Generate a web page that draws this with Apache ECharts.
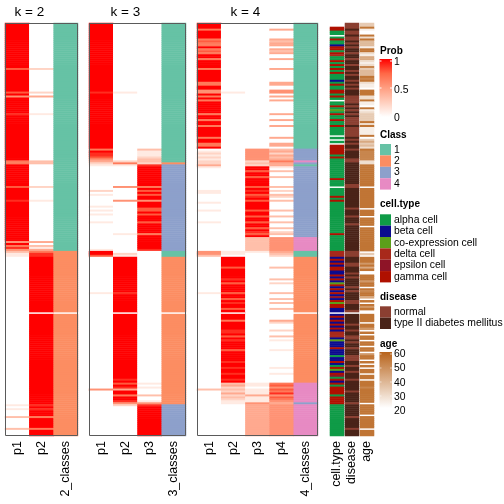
<!DOCTYPE html>
<html><head><meta charset="utf-8">
<script src="https://cdn.jsdelivr.net/npm/echarts@6/dist/echarts.min.js"></script>
<style>html,body{margin:0;padding:0;background:#fff}#c{width:504px;height:504px}</style>
</head><body><div id="c"></div>
<script>
// Each string = 10 consecutive rows (top to bottom). Prob digits: d/9 ; '.' = NA
const k2_p1 = ["9999999999","9999999999","9997999999","9999979599","9999998999","9999999999","9999999999","6699999999","9997999999","8999999999","9999999999","9596853110","0000000000","0000000000","0000000.00","0000000000","0000000000","0000000000","0000000000","0000101000","3000003000"];
const k2_p2 = ["0000000000","0000000000","0002000000","0000020400","0000001000","0000000000","0000000000","3300000000","0002000000","1000000000","0000000000","0403146889","9999999999","9999999999","9999999.99","9999999999","9999999999","9999999999","9999999999","9999898999","6999996999"];
const k2_cls = ["1111111111","1111111111","1111111111","1111111111","1111111111","1111111111","1111111111","1111111111","1111111111","1111111111","1111111111","1111112222","2222222222","2222222222","2222222.22","2222222222","2222222222","2222222222","2222222222","2222222222","2222222222"];

const k3_p1 = ["9999999999","9999999999","9999999999","9999989999","9999999999","9999999999","9999698875","4210000000","0000020100","0001010100","0100000000","0000019970","0000000000","0000000100","0000000.00","0000000000","0000000000","0000000000","0000005000","0000000000","0000000000"];
const k3_p2 = ["0000000000","0000000000","0000000000","0000010000","0000000000","0000000000","0000000000","2610000000","0005000000","5000000000","0000000100","0000000219","9999999999","9999999899","9999999.99","9999999999","9999999999","9999999999","9897984996","9985200000","0000000000"];
const k3_p3 = ["0000000000","0000000000","0000000000","0000000000","0000000000","0000000000","0000311123","3289999999","9996979799","5999779799","9799999699","9999980000","0000000000","0000000000","0000000.00","0000000000","0000000000","0000000000","0001010003","0015899999","9999999999"];
const k3_cls = ["1111111111","1111111111","1111111111","1111111111","1111111111","1111111111","1111111111","1233333333","3333333333","3333333333","3333333333","3333331112","2222222222","2222222222","2222222.22","2222222222","2222222222","2222222222","2222222222","2222333333","3333333333"];

const k4_p1 = ["9996999967","6696769969","9996999999","6699559696","9999996996","9969999969","9669012121","2241000000","0000011000","0100010000","0100000000","0000005530","0000000000","0000000100","0000000.00","0000000000","0000000000","0000000000","0000003000","0000000000","0000000000"];
const k4_p2 = ["0000000000","0000000000","0000000000","0000010000","0000000000","0000000000","0000000000","0000000000","0000000000","0000000000","0000000000","0000001109","9999799999","8979999799","7989979.99","9699998897","9899997999","9989989989","9893423242","3211000000","0000000000"];
const k4_p3 = ["0000000000","0000000000","0000000000","0000000000","0000000000","0000000000","0000555555","2329979979","9997989789","7999979979","9799798793","3333331000","0000000000","0000000000","0000000.00","0000000000","0000000000","0000000000","0001101114","1115444444","4444444444"];
const k4_p4 = ["0004000043","4404340040","0004000000","4400550404","0000004004","0040000040","0440342434","6441030030","0003020320","3000030030","0300302305","5555554320","0000300000","3020000300","3030030.00","0420002003","0100001000","0000010010","0006757685","7654555555","5555555555"];
const k4_cls = ["1111111111","1111111111","1111111111","1111111111","1111111111","1111111111","1111333333","4313333333","3333333333","3333333333","3333333334","4444441112","2222222222","2222222222","2222222.22","2222222222","2222222222","2222222222","2224444444","4443444444","4444444444"];

// a alpha, b beta, c co-expression, d delta, e epsilon, g gamma, '.' NA
const cellType = ["..ggaa.aga","abggagdaag","agagagaaab","agaaggaga.","aagacagaag","aagaaaa.a.","a.gggggaga","aaaaaaaaag","aaa.aaaaga","gaaaaaaaaa","aaaaaaagaa","aaaaaadddb","gbgbggbbgb","gbcgbgbgbe","bgcggbb.bg","bgbgbgbddd","bcbbbgbbba","bbgbagcbge","agbgagggga","ggggaaaaaa","aaaaaaaaaa"];
// n normal, t type II diabetes mellitus
const disease = ["nnntnntnnt","ntnttnttnt","tnttntnttn","tntntttnnn","ntntntntnn","nntnnnnntn","tnttnttttn","nttttttttt","ttnntttttt","ttttntttnt","ttnttttttt","ttttttnnnt","ttnntttntn","ttttntnttt","tnntttn.tt","tttnttnttn","ntnttntttn","nnttnttntt","tntttttntt","tttntttttt","ntttttnttt"];
// age digit d -> 20 + d*40/9
const age = ["3381008284","4418821552","1273444878","2110888228","1108123333","8281111803","5342877777","2288888888","888.888888","8888.888.8","888.888888","888888.3.8","886858..88","8688.87885",".8.868..88","88.886.8.8","8.88.88.68","8.8.8.88.8","8.88878888","888.88888.","888888.888"];

const classNames = ["1","2","3","4"];
const classColors = ["#66C2A5","#FC8D62","#8DA0CB","#E78AC3"];
const cellTypeNames = ["alpha cell","beta cell","co-expression cell","delta cell","epsilon cell","gamma cell"];
const cellTypeCodes = ["a","b","c","d","e","g"];
const cellTypeColors = ["#0F9B47","#0B0B8E","#5B9F1A","#A8291B","#8E1427","#AF1000"];
const diseaseNames = ["normal","type II diabetes mellitus"];
const diseaseCodes = ["n","t"];
const diseaseColors = ["#8B3F31","#4A2318"];
const probTicks = ["1","0.5","0"];
const ageTicks = ["60","50","40","30","20"];

const probRamp = ["#FFFFFF","#FFCFBE","#FF9E81","#FF6847","#FF0000"];
const ageRamp = ["#FFFFFF","#B8641C"];

const J = a => a.join('');
const NROW = J(k2_p1).length;
const rowCats = Array.from({length:NROW},(_,i)=>String(i));

function cells(cols, offset, dec){
  const out=[];
  cols.forEach((arr,ci)=>{const s=J(arr);for(let r=0;r<s.length;r++){const ch=s[r];if(ch==='.')continue;out.push([ci+offset,r,dec(ch)]);}});
  return out;
}
const pd = ch => (+ch)/9;
const cd = ch => +ch;

const panels = [
  {left:5, width:73, cats:['p1','p2','2_classes'], probs:[k2_p1,k2_p2], cls:k2_cls, title:'k = 2'},
  {left:89, width:97, cats:['p1','p2','p3','3_classes'], probs:[k3_p1,k3_p2,k3_p3], cls:k3_cls, title:'k = 3'},
  {left:197, width:121, cats:['p1','p2','p3','p4','4_classes'], probs:[k4_p1,k4_p2,k4_p3,k4_p4], cls:k4_cls, title:'k = 4'},
];
const annos = [
  {left:330, width:14, cats:['cell.type']},
  {left:345, width:14, cats:['disease']},
  {left:360, width:14, cats:['age']},
];
const TOP=23, H=413;
const FONT = '"Liberation Sans", Arial, Helvetica, sans-serif';

const grids=[], xAxes=[], yAxes=[], series=[];
[...panels, ...annos].forEach((p,i)=>{
  grids.push({left:p.left, top:TOP, width:p.width, height:H, show:false});
  xAxes.push({type:'category', gridIndex:i, data:p.cats, position:'bottom',
    axisLine:{show:false}, axisTick:{show:false}, splitLine:{show:false},
    axisLabel:{rotate:90, fontSize:12.5, margin:5, color:'#000', fontFamily:FONT, interval:0}});
  yAxes.push({type:'category', gridIndex:i, data:rowCats, inverse:true, show:false});
});
const hm = (gi,data)=>({type:'heatmap', xAxisIndex:gi, yAxisIndex:gi, data, progressive:0, animation:false,
  itemStyle:{borderWidth:0}, emphasis:{disabled:true}});
panels.forEach((p,i)=>{
  series.push(hm(i, cells(p.probs,0,pd)));
  series.push(hm(i, cells([p.cls],p.probs.length,cd)));
});
series.push(hm(3, cells([cellType],0,ch=>cellTypeCodes.indexOf(ch))));
series.push(hm(4, cells([disease],0,ch=>diseaseCodes.indexOf(ch))));
series.push(hm(5, cells([age],0,ch=>20+(+ch)*40/9)));

const visualMap = [
  {type:'continuous', show:false, seriesIndex:[0,2,4], dimension:2, min:0, max:1, inRange:{color:probRamp}},
  {type:'piecewise', show:false, seriesIndex:[1,3,5], dimension:2, pieces:classNames.map((n,i)=>({value:i+1, color:classColors[i]}))},
  {type:'piecewise', show:false, seriesIndex:[6], dimension:2, pieces:cellTypeNames.map((n,i)=>({value:i, color:cellTypeColors[i]})).concat([{value:-1, color:'#C8C8C8'}])},
  {type:'piecewise', show:false, seriesIndex:[7], dimension:2, pieces:diseaseNames.map((n,i)=>({value:i, color:diseaseColors[i]}))},
  {type:'continuous', show:false, seriesIndex:[8], dimension:2, min:20, max:60, inRange:{color:ageRamp}},
];

const G=[];
const txt=(t,x,y,size,bold,align)=>G.push({type:'text', z:200, style:{text:t, x, y, fill:'#000',
  fontSize:size, fontWeight:bold?'bold':'normal', fontFamily:FONT, textAlign:align||'left', align:align||'left',
  textVerticalAlign:'middle', verticalAlign:'middle'}});
// panel titles (centered over probability columns) and borders
panels.forEach(p=>{
  const pw = p.width*p.probs.length/p.cats.length;
  txt(p.title, p.left+pw/2, 12, 13.5, false, 'center');
  G.push({type:'rect', z:150, shape:{x:p.left+0.5, y:TOP+0.5, width:p.width-1, height:H-1}, style:{fill:null, stroke:'#5a5a5a', lineWidth:1}});
});
// Prob legend
const LX=380, TX=394;
txt('Prob', LX, 51, 10, true);
G.push({type:'rect', z:150, shape:{x:LX-0.5, y:59, width:12.5, height:58},
  style:{fill:new echarts.graphic.LinearGradient(0,0,0,1, probRamp.slice().reverse().map((c,i)=>({offset:i/(probRamp.length-1), color:c})))}});
[61,88,115].forEach(y=>{G.push({type:'line',z:160,shape:{x1:LX-0.5,y1:y,x2:LX+1.5,y2:y},style:{stroke:'#fff',lineWidth:1}});G.push({type:'line',z:160,shape:{x1:LX+10,y1:y,x2:LX+12,y2:y},style:{stroke:'#fff',lineWidth:1}});});
probTicks.forEach((t,i)=>txt(t, TX, 62+i*28, 10.4));
// Class legend
txt('Class', LX, 135, 10, true);
classNames.forEach((n,i)=>{
  G.push({type:'rect', z:150, shape:{x:LX, y:144+i*11.4, width:11, height:11.4}, style:{fill:classColors[i]}});
  txt(n, TX, 149.7+i*11.4, 10.4);
});
// cell.type legend
txt('cell.type', LX, 204, 10, true);
cellTypeNames.forEach((n,i)=>{
  G.push({type:'rect', z:150, shape:{x:LX, y:214.3+i*11.35, width:11, height:11.35}, style:{fill:cellTypeColors[i]}});
  txt(n, TX, 220+i*11.35, 10.4);
});
// disease legend
txt('disease', LX, 297, 10, true);
diseaseNames.forEach((n,i)=>{
  G.push({type:'rect', z:150, shape:{x:LX, y:306.3+i*11.35, width:11, height:11.35}, style:{fill:diseaseColors[i]}});
  txt(n, TX, 312+i*11.35, 10.4);
});
// age legend
txt('age', LX, 344.5, 10, true);
G.push({type:'rect', z:150, shape:{x:LX-0.5, y:352, width:12.5, height:56},
  style:{fill:new echarts.graphic.LinearGradient(0,0,0,1,[{offset:0,color:ageRamp[1]},{offset:1,color:ageRamp[0]}])}});
[354,368,382,396].forEach(y=>{G.push({type:'line',z:160,shape:{x1:LX-0.5,y1:y,x2:LX+1.5,y2:y},style:{stroke:'#fff',lineWidth:1,opacity:0.6}});G.push({type:'line',z:160,shape:{x1:LX+10,y1:y,x2:LX+12,y2:y},style:{stroke:'#fff',lineWidth:1,opacity:0.6}});});
ageTicks.forEach((t,i)=>txt(t, TX, 354.5+i*14.1, 10.4));

const chart = echarts.init(document.getElementById('c'), null, {renderer:'canvas', width:504, height:504});
chart.setOption({animation:false, backgroundColor:'#fff', grid:grids, xAxis:xAxes, yAxis:yAxes, series, visualMap, graphic:G});
</script></body></html>
